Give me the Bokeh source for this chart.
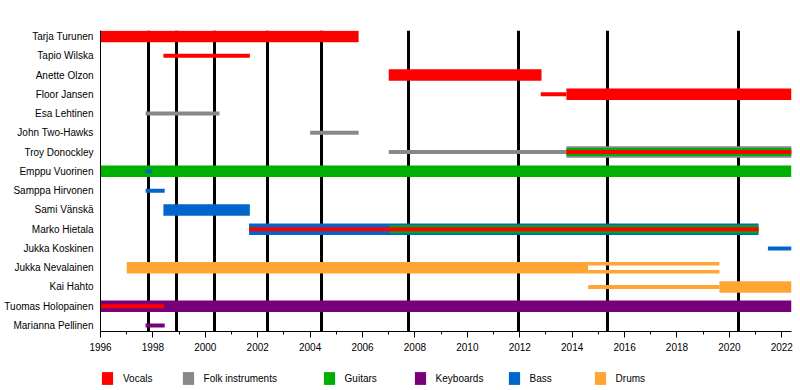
from bokeh.plotting import figure
from bokeh.layouts import column
from bokeh.models import Range1d, FixedTicker, Legend, LegendItem, ColumnDataSource
from bokeh.embed import file_html
from bokeh.resources import INLINE

# ---------------- data ----------------
members = ["Tarja Turunen", "Tapio Wilska", "Anette Olzon", "Floor Jansen",
           "Esa Lehtinen", "John Two-Hawks", "Troy Donockley", "Emppu Vuorinen",
           "Samppa Hirvonen", "Sami Vänskä", "Marko Hietala", "Jukka Koskinen",
           "Jukka Nevalainen", "Kai Hahto", "Tuomas Holopainen", "Marianna Pellinen"]

instruments = ["Vocals", "Folk instruments", "Guitars", "Keyboards", "Bass", "Drums"]
instrument_colors = ["#FF0000", "#888888", "#00B000", "#780078", "#0066CC", "#FFA533"]

START = 1996.0
END = 2022.37

span_member = ["Tarja Turunen", "Tapio Wilska", "Anette Olzon", "Floor Jansen", "Floor Jansen",
               "Esa Lehtinen", "John Two-Hawks", "Troy Donockley", "Troy Donockley",
               "Troy Donockley", "Troy Donockley", "Emppu Vuorinen", "Emppu Vuorinen",
               "Samppa Hirvonen", "Sami Vänskä", "Marko Hietala", "Marko Hietala",
               "Marko Hietala", "Jukka Koskinen", "Jukka Nevalainen", "Jukka Nevalainen",
               "Kai Hahto", "Kai Hahto", "Tuomas Holopainen", "Tuomas Holopainen",
               "Marianna Pellinen"]
span_instrument = ["Vocals", "Vocals", "Vocals", "Vocals", "Vocals",
                   "Folk instruments", "Folk instruments", "Folk instruments", "Folk instruments",
                   "Guitars", "Vocals", "Guitars", "Bass",
                   "Bass", "Bass", "Bass", "Guitars",
                   "Vocals", "Bass", "Drums", "Drums",
                   "Drums", "Drums", "Keyboards", "Vocals",
                   "Keyboards"]
span_start = [1996.0, 1998.40, 2007.00, 2012.80, 2013.78,
              1997.72, 2004.00, 2007.00, 2013.78,
              2013.78, 2013.78, 1996.0, 1997.72,
              1997.72, 1998.40, 2001.67, 2007.02,
              2001.67, 2021.47, 1997.00, 2014.61,
              2014.61, 2019.62, 1996.0, 1996.0,
              1997.72]
span_end = [2005.85, 2001.70, 2012.83, 2013.78, END,
            2000.54, 2005.85, 2013.78, END,
            END, END, END, 1997.95,
            1998.45, 2001.70, 2021.11, 2021.11,
            2021.11, END, 2014.61, 2019.62,
            2019.62, END, END, 1998.42,
            1998.45]
span_kind = ["main", "minor", "main", "minor", "main",
             "minor", "minor", "minor", "main",
             "layer2", "layer3", "main", "minor",
             "minor", "main", "main", "layer2",
             "layer3", "minor", "main", "split",
             "minor", "main", "main", "layer3",
             "minor"]

album_names = ["Angels Fall First", "Oceanborn", "Wishmaster", "Century Child", "Once",
               "Dark Passion Play", "Imaginaerum", "Endless Forms Most Beautiful",
               "Human. :II: Nature."]
album_dates = [1997.84, 1998.91, 2000.36, 2002.39, 2004.45, 2007.75, 2011.95, 2015.36, 2020.33]

year_ticks = list(range(1996, 2023, 2))
year_minor_ticks = list(range(1996, 2023))

# ---------------- layout helpers ----------------
ROW_PX = 19.27
kind_px = {"main": 11.5, "minor": 4.0, "layer2": 8.0, "layer3": 4.0, "split": 3.5}
kind_order = {"main": 0, "minor": 1, "split": 1, "layer2": 2, "layer3": 3}
color_of = dict(zip(instruments, instrument_colors))

rows = []
for m, ins, s, e, k in zip(span_member, span_instrument, span_start, span_end, span_kind):
    yc = members.index(m)
    h = kind_px[k] / ROW_PX
    if k == "split":
        off = 4.0 / ROW_PX
        for d in (-off, off):
            rows.append((kind_order[k], yc + d, s, e, h, color_of[ins], ins, m))
    else:
        rows.append((kind_order[k], yc, s, e, h, color_of[ins], ins, m))
rows.sort(key=lambda r: r[0])

src = ColumnDataSource(dict(
    y=[r[1] for r in rows], left=[r[2] for r in rows], right=[r[3] for r in rows],
    height=[r[4] for r in rows], color=[r[5] for r in rows],
    instrument=[r[6] for r in rows], member=[r[7] for r in rows]))

FONT = "Liberation Sans"

p = figure(width=800, height=360, output_backend="svg", toolbar_location=None,
           x_range=Range1d(START, END), y_range=Range1d(15.31, -0.31),
           min_border_left=100, min_border_right=9, min_border_top=30, min_border_bottom=29)
p.xgrid.grid_line_color = None
p.ygrid.grid_line_color = None
p.outline_line_color = None
p.background_fill_color = "white"

# album release lines (behind bars)
p.vspan(x=album_dates, line_color="black", line_width=3)

bars = p.hbar(y="y", left="left", right="right", height="height", source=src,
              fill_color="color", line_color=None)

# axes
xa = p.xaxis[0]
xa.ticker = FixedTicker(ticks=year_ticks, minor_ticks=year_minor_ticks)
xa.axis_line_color = "black"
xa.major_tick_line_color = "black"
xa.minor_tick_line_color = "black"
xa.major_tick_out = 6
xa.major_tick_in = 0
xa.minor_tick_out = 3
xa.minor_tick_in = 0
xa.major_label_standoff = 5
xa.major_label_text_font = FONT
xa.major_label_text_font_size = "10px"
xa.major_label_text_color = "black"

ya = p.yaxis[0]
ya.ticker = FixedTicker(ticks=list(range(len(members))))
ya.major_label_overrides = {i: m for i, m in enumerate(members)}
ya.axis_line_color = "black"
ya.major_tick_line_color = None
ya.minor_tick_line_color = None
ya.major_tick_out = 0
ya.major_tick_in = 0
ya.major_label_standoff = 7
ya.major_label_text_font = FONT
ya.major_label_text_font_size = "10px"
ya.major_label_text_color = "black"

# ---------------- legend strip ----------------
lf = figure(width=800, height=30, output_backend="svg", toolbar_location=None,
            x_range=Range1d(0, 800), y_range=Range1d(0, 30),
            x_axis_type=None, y_axis_type=None, min_border=0)
lf.outline_line_color = None
lf.background_fill_color = "white"

# frame of the legend strip is aligned with the chart frame (starts at x=100)
FRAME_LEFT = 100
GW, GH = 14, 16          # legend glyph box (area glyphs are drawn inset by 10%)
INSET = 0.1 * GW
legend_x = [98, 182, 323, 414, 508, 594]
for ins, col, lx in zip(instruments, instrument_colors, legend_x):
    # swatch renderer for the legend (its single point lies outside the visible range)
    r = lf.hbar(y=[-100], left=[0], right=[1], height=1, fill_color=col, line_color=None)
    lg = Legend(items=[LegendItem(label=ins, renderers=[r])],
                location=(max(lx - INSET - FRAME_LEFT, 0), 4), orientation="horizontal",
                glyph_width=GW, glyph_height=GH, label_height=GH, label_standoff=9,
                padding=0, margin=0, spacing=0,
                border_line_color=None, background_fill_alpha=0,
                label_text_font=FONT, label_text_font_size="10px",
                label_text_color="black")
    lf.add_layout(lg)

layout = column(p, lf, spacing=0)
open("out.html", "w").write(file_html(layout, INLINE))
